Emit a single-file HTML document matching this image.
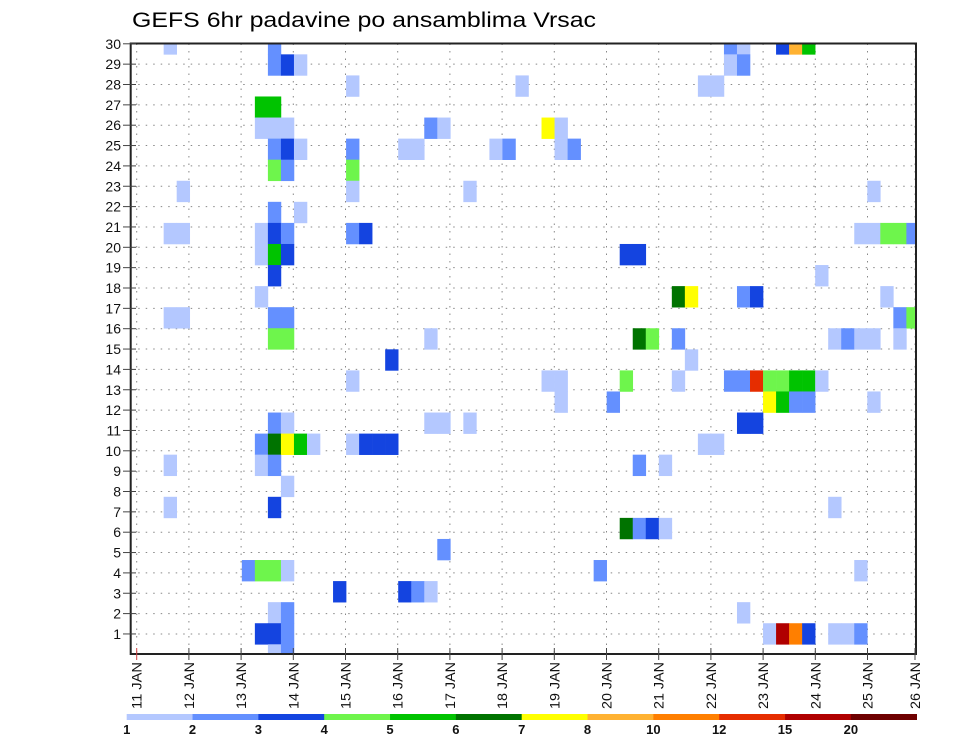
<!DOCTYPE html>
<html><head><meta charset="utf-8"><style>
html,body{margin:0;padding:0;background:#fff;}
svg{display:block;font-family:"Liberation Sans",sans-serif;}
</style></head><body>
<svg id="chart" width="960" height="742" viewBox="0 0 960 742" xmlns="http://www.w3.org/2000/svg">
<defs><clipPath id="plotclip"><rect x="130.7" y="43.5" width="785.3" height="610.5"/></clipPath></defs>
<text x="132" y="27" font-size="21" textLength="464" lengthAdjust="spacingAndGlyphs" fill="#000">GEFS 6hr padavine po ansamblima Vrsac</text>
<g id="grid"></g>
<g id="cells" clip-path="url(#plotclip)"></g>
<rect x="130.7" y="43.5" width="785.3" height="610.5" fill="none" stroke="#222" stroke-width="2"/>
<g id="yaxis"></g>
<g id="xaxis"></g>
<g id="legend"></g>
</svg>
<script>
// data
const memberRow = [
29,29,29,29,29,29,29,
28,28,28,28,28,
27,27,27,27,
26,26,
25,25,25,25,25,25,25,
24,24,24,24,24,24,24,24,24,24,
23,23,23,
22,22,22,22,
21,21,
20,20,20,20,20,20,20,20,20,20,20,20,
19,19,19,19,19,
18,18,
17,17,17,17,17,17,
16,16,16,16,16,16,
15,15,15,15,15,15,15,15,15,15,15,
14,14,
13,13,13,13,13,13,13,13,13,13,13,13,13,
12,12,12,12,12,12,12,
11,11,11,11,11,11,11,
10,10,10,10,10,10,10,10,10,10,10,
9,9,9,9,9,
8,
7,7,7,
6,6,6,6,
5,
4,4,4,4,4,4,
3,3,3,3,
2,2,2,
1,1,1,1,1,1,1,1,1,1,
0,0];
const timeStep = [
2,10,45,46,49,50,51,
10,11,12,45,46,
16,29,43,44,
9,10,
9,10,11,22,23,31,32,
10,11,12,16,20,21,27,28,32,33,
10,11,16,
3,16,25,56,
10,12,
2,3,9,10,11,16,17,55,56,57,58,59,
9,10,11,37,38,
10,52,
9,41,42,46,47,57,
2,3,10,11,58,59,
10,11,22,38,39,41,53,54,55,56,58,
19,42,
16,31,32,37,41,45,46,47,48,49,50,51,52,
32,36,48,49,50,51,56,
10,11,22,23,25,46,47,
9,10,11,12,13,16,17,18,19,43,44,
2,9,10,38,40,
11,
2,10,53,
37,38,39,40,
23,
8,9,10,11,35,55,
15,20,21,22,
10,11,46,
9,10,11,48,49,50,51,53,54,55,
10,11];
const precipMm = [
1.5,2.5,2.5,1.5,3.5,9,5.5,
2.5,3.5,1.5,1.5,2.5,
1.5,1.5,1.5,1.5,
5.5,5.5,
1.5,1.5,1.5,2.5,1.5,7.5,1.5,
2.5,3.5,1.5,2.5,1.5,1.5,1.5,2.5,1.5,2.5,
4.5,2.5,4.5,
1.5,1.5,1.5,1.5,
2.5,1.5,
1.5,1.5,1.5,3.5,2.5,2.5,3.5,1.5,1.5,4.5,4.5,2.5,
1.5,5.5,3.5,3.5,3.5,
3.5,1.5,
1.5,6.5,7.5,2.5,3.5,1.5,
1.5,1.5,2.5,2.5,2.5,4.5,
4.5,4.5,1.5,6.5,4.5,2.5,1.5,2.5,1.5,1.5,1.5,
3.5,1.5,
1.5,1.5,1.5,4.5,1.5,2.5,2.5,13.5,4.5,4.5,5.5,5.5,1.5,
1.5,2.5,7.5,5.5,2.5,2.5,1.5,
2.5,1.5,1.5,1.5,1.5,3.5,3.5,
2.5,6.5,7.5,5.5,1.5,1.5,3.5,3.5,3.5,1.5,1.5,
1.5,1.5,2.5,2.5,1.5,
1.5,
1.5,3.5,1.5,
6.5,2.5,3.5,1.5,
2.5,
2.5,4.5,4.5,1.5,2.5,1.5,
3.5,3.5,2.5,1.5,
1.5,2.5,1.5,
3.5,3.5,2.5,1.5,17.5,11,3.5,1.5,1.5,2.5,
1.5,2.5];
const levelBounds = [1,2,3,4,5,6,7,8,10,12,15,20];
const levelColors = ["#b4c8ff","#6490ff","#1444e0","#6ef54c","#00c300","#007300","#ffff00","#ffb232","#ff7f00","#e62d00","#b00000","#6e0000"];
const memberLabels = [];
for (let k=1;k<=30;k++) memberLabels.push(String(k));
const dayLabels = ["11","12","13","14","15","16","17","18","19","20","21","22","23","24","25","26"];

const NS="http://www.w3.org/2000/svg";
function mk(tag, attrs, parent){const e=document.createElementNS(NS,tag);for(const k in attrs)e.setAttribute(k,attrs[k]);parent.appendChild(e);return e;}
// axis functions
const cellX = c => 137.6 + 13.03*c;
const cellW = 13.03;
const cellY = r => 644.3 - 21.07*r;
const cellH = 21.07;
const memberY = k => 654.3 - 20.35*k;
const dayX = i => 136.7 + 52.2*i;
function colorFor(v){let idx=-1;for(let i=0;i<levelBounds.length;i++){if(v>=levelBounds[i])idx=i;}return idx<0?null:levelColors[idx];}

const grid=document.getElementById('grid');
for(let k=1;k<30;k++){
  const l=mk('line',{x1:130.7,x2:916,y1:memberY(k),y2:memberY(k),stroke:'#888','stroke-width':1,'stroke-dasharray':'1.5,6'},grid);
  
  
}
for(let i=0;i<dayLabels.length;i++){
  const x=Math.min(dayX(i),915);
  const l=mk('line',{x1:x,x2:x,y1:43.5,y2:654,stroke:'#888','stroke-width':1,'stroke-dasharray':'1.5,6'},grid);
  
  
}

const cells=document.getElementById('cells');
for(let i=0;i<precipMm.length;i++){
  const col=colorFor(precipMm[i]); if(!col) continue;
  const r=mk('rect',{x:cellX(timeStep[i]),y:cellY(memberRow[i]),width:cellW+0.3,height:cellH+0.3,fill:col},cells);
  
  
}

const ya=document.getElementById('yaxis');
for(let k=1;k<=30;k++){
  const y=memberY(k);
  const t=mk('line',{x1:123,x2:136,y1:y,y2:y,stroke:'#444','stroke-width':1},ya);
  
  
  const tx=mk('text',{x:121,y:y+5,'font-size':14,'text-anchor':'end',fill:'#111'},ya);
  tx.textContent=memberLabels[k-1];
  
  
}

const xa=document.getElementById('xaxis');
for(let i=0;i<dayLabels.length;i++){
  const x=Math.min(dayX(i),915);
  const t=mk('line',{x1:x,x2:x,y1:648,y2:660,stroke:i===0?'#d04040':'#444','stroke-width':1},xa);
  
  
  const tx=mk('text',{x:0,y:0,'font-size':14,fill:'#111',transform:`translate(${x+5},709) rotate(-90)`,textLength:47,lengthAdjust:'spacingAndGlyphs'},xa);
  tx.textContent=dayLabels[i]+" JAN";
  
  
}

const lg=document.getElementById('legend');
const segW=(916.7-126.7)/levelColors.length;
for(let i=0;i<levelColors.length;i++){
  const r=mk('rect',{x:126.7+segW*i,y:714,width:segW+0.3,height:6,fill:levelColors[i]},lg);
  
  
  const t=mk('text',{x:126.7+segW*i,y:734,'font-size':13,'font-weight':'bold','text-anchor':'middle',fill:'#111'},lg);
  t.textContent=String(levelBounds[i]);
  
  
}
</script>
</body></html>
